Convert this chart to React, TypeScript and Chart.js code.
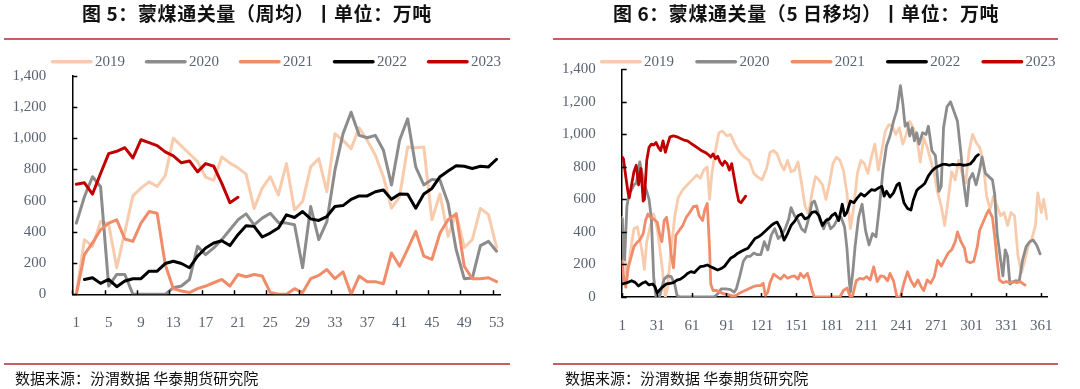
import React, { useEffect, useRef } from "react";
import { Chart, registerables } from "chart.js";

Chart.register(...registerables);

// ---------- shared ----------
const SERIES_NAMES = ["2019", "2020", "2021", "2022", "2023"];
const SERIES_COLORS = ["#F8CBAD", "#8C8C8C", "#F08C6A", "#000000", "#C00000"];
const Y_TICKS = [0, 200, 400, 600, 800, 1000, 1200, 1400];
const TEXT_COLOR = "#5b6371";

// ---------- Figure 5: weekly average ----------
const WEEKS = [1, 2, 3, 4, 5, 6, 7, 8, 9, 10, 11, 12, 13, 14, 15, 16, 17, 18, 19, 20, 21, 22, 23, 24, 25, 26, 27, 28, 29, 30, 31, 32, 33, 34, 35, 36, 37, 38, 39, 40, 41, 42, 43, 44, 45, 46, 47, 48, 49, 50, 51, 52, 53];
const WEEK_TICKS = [1, 5, 9, 13, 17, 21, 25, 29, 33, 37, 41, 45, 49, 53];
const WEEKLY_2019 = [0, 350, 307, 466, 450, 170, 400, 630, 680, 720, 690, 760, 1000, 950, 900, 850, 750, 730, 880, 840, 810, 770, 550, 680, 753, 636, 837, 540, 594, 816, 869, 657, 1028, 986, 933, 1066, 986, 890, 753, 551, 625, 943, 939, 943, 477, 642, 371, 519, 300, 350, 550, 510, 300];
const WEEKLY_2020 = [456, 625, 753, 689, 53, 127, 127, 0, 0, 0, 0, 0, 42, 53, 95, 307, 254, 297, 350, 413, 477, 515, 445, 488, 519, 460, 456, 445, 170, 562, 350, 466, 795, 1028, 1166, 1018, 1003, 1018, 922, 700, 986, 1124, 816, 700, 736, 731, 583, 286, 100, 104, 312, 339, 276];
const WEEKLY_2021 = [0, 254, 329, 413, 456, 477, 354, 339, 456, 530, 519, 191, 36, 21, 11, 36, 53, 74, 95, 53, 127, 112, 127, 117, 11, 0, 0, 36, 11, 100, 121, 159, 100, 144, 0, 117, 81, 81, 68, 265, 180, 290, 403, 244, 223, 392, 477, 515, 180, 100, 100, 106, 81];
const WEEKLY_2022 = [null, 95, 106, 70, 95, 49, 85, 100, 100, 148, 148, 197, 212, 197, 170, 244, 297, 329, 343, 312, 382, 439, 435, 367, 392, 424, 509, 492, 530, 483, 473, 498, 562, 568, 608, 630, 630, 657, 668, 608, 642, 640, 551, 642, 678, 753, 789, 823, 820, 806, 820, 816, 865];
const WEEKLY_2023 = [705, 714, 642, 774, 901, 916, 939, 873, 990, 971, 952, 912, 886, 842, 854, 784, 837, 820, 710, 587, 621];

// ---------- Figure 6: 5-day moving average (day, value) ----------
const DAY_TICKS = [1, 31, 61, 91, 121, 151, 181, 211, 241, 271, 301, 331, 361];
const DAILY_2019: [number, number][] = [
  [1, 490], [3, 250], [5, 110], [8, 280], [11, 420], [14, 430], [18, 280], [20, 170], [22, 340], [25, 430],
  [28, 510], [31, 420], [35, 200], [38, 0], [40, 60], [43, 300], [46, 490], [49, 610], [53, 660], [57, 690],
  [61, 720], [65, 750], [68, 730], [71, 780], [74, 800], [76, 600], [78, 760], [81, 900], [84, 1010], [87, 1020],
  [91, 990], [94, 1000], [97, 950], [100, 910], [103, 880], [106, 860], [110, 840], [114, 760], [117, 740], [121, 720],
  [125, 790], [128, 890], [131, 900], [134, 880], [137, 820], [140, 780], [143, 840], [146, 770], [149, 780], [152, 830],
  [155, 700], [158, 560], [161, 510], [164, 640], [167, 740], [170, 720], [173, 690], [176, 600], [179, 700], [182, 820],
  [185, 860], [188, 840], [191, 780], [194, 640], [197, 420], [200, 560], [203, 760], [206, 840], [209, 820], [212, 760],
  [215, 860], [218, 940], [221, 780], [224, 900], [227, 1020], [230, 1060], [233, 1050], [236, 1000], [239, 1040], [242, 940],
  [245, 1000], [248, 1080], [251, 1040], [254, 980], [257, 830], [260, 980], [263, 920], [266, 840], [269, 760], [272, 640],
  [275, 560], [278, 440], [281, 600], [284, 770], [287, 720], [290, 840], [293, 760], [296, 700], [299, 900], [302, 1000],
  [305, 950], [308, 920], [311, 840], [314, 620], [317, 540], [320, 620], [323, 560], [326, 500], [329, 520], [332, 440],
  [335, 520], [338, 500], [341, 250], [344, 150], [347, 230], [350, 320], [353, 360], [356, 440], [358, 640], [361, 520],
  [363, 600], [366, 480],
];
const DAILY_2020: [number, number][] = [
  [1, 480], [2, 300], [3, 230], [5, 560], [7, 640], [9, 660], [11, 690], [13, 700], [14, 740], [16, 830],
  [18, 760], [20, 690], [22, 650], [24, 600], [26, 480], [27, 300], [28, 120], [30, 0], [33, 0], [35, 60],
  [37, 110], [40, 130], [43, 125], [46, 80], [48, 10], [50, 0], [80, 0], [83, 20], [86, 50], [90, 50],
  [94, 45], [97, 30], [99, 50], [102, 130], [105, 220], [108, 250], [111, 250], [114, 270], [117, 260], [120, 260],
  [123, 340], [126, 290], [129, 380], [132, 420], [135, 360], [138, 380], [141, 420], [144, 480], [146, 550], [149, 500],
  [152, 470], [155, 420], [158, 400], [161, 480], [164, 580], [166, 590], [168, 550], [171, 470], [174, 420], [177, 480],
  [180, 420], [183, 440], [186, 480], [189, 490], [192, 430], [194, 300], [196, 100], [197, 30], [199, 150], [201, 310],
  [204, 490], [207, 570], [210, 410], [213, 320], [216, 390], [219, 370], [222, 560], [225, 780], [228, 930], [231, 990],
  [234, 1080], [237, 1150], [240, 1300], [242, 1190], [244, 1050], [246, 1070], [248, 990], [250, 1040], [252, 960], [254, 1010],
  [256, 940], [259, 1010], [262, 1000], [264, 1050], [267, 900], [270, 870], [273, 650], [275, 680], [277, 1040], [280, 1170],
  [283, 1200], [286, 1140], [289, 1080], [292, 880], [294, 720], [297, 560], [299, 720], [302, 760], [305, 690], [308, 780],
  [310, 860], [313, 760], [316, 740], [319, 720], [321, 630], [323, 390], [326, 230], [328, 130], [330, 290], [332, 250],
  [334, 80], [336, 90], [339, 100], [342, 95], [345, 230], [348, 310], [351, 340], [354, 350], [357, 320], [360, 265],
];
const DAILY_2021: [number, number][] = [
  [1, 220], [2, 130], [4, 60], [6, 180], [8, 230], [11, 310], [13, 330], [16, 350], [19, 390], [21, 470],
  [23, 510], [25, 490], [28, 480], [31, 460], [33, 390], [35, 340], [37, 470], [39, 490], [41, 400], [43, 260],
  [45, 180], [47, 380], [50, 410], [53, 440], [56, 490], [59, 520], [62, 555], [65, 560], [67, 500], [70, 470],
  [72, 540], [74, 575], [76, 300], [77, 80], [79, 40], [82, 40], [85, 30], [88, 20], [92, 15], [96, 5],
  [99, 10], [102, 25], [105, 35], [108, 45], [111, 55], [114, 65], [117, 70], [120, 70], [122, 85], [124, 10],
  [126, 30], [128, 90], [131, 140], [134, 125], [137, 110], [140, 135], [143, 115], [146, 125], [149, 130], [152, 110],
  [154, 145], [157, 120], [160, 145], [162, 100], [164, 40], [166, 0], [188, 0], [191, 40], [194, 55], [197, 0],
  [199, 10], [202, 100], [205, 115], [208, 110], [211, 125], [214, 105], [217, 185], [220, 95], [223, 130], [226, 125],
  [229, 100], [231, 145], [234, 100], [237, 0], [240, 0], [243, 85], [246, 155], [249, 100], [252, 65], [255, 105],
  [258, 60], [260, 40], [263, 105], [266, 85], [269, 125], [272, 225], [275, 190], [278, 230], [281, 270], [284, 290],
  [287, 340], [289, 400], [292, 340], [295, 300], [297, 220], [300, 210], [303, 220], [306, 310], [308, 410], [311, 460],
  [314, 510], [316, 535], [319, 490], [321, 370], [323, 230], [325, 105], [328, 88], [331, 95], [334, 88], [337, 95],
  [340, 88], [343, 95], [346, 78], [347, 74],
];
const DAILY_2022: [number, number][] = [
  [1, 80], [5, 88], [9, 100], [12, 90], [15, 68], [18, 84], [21, 94], [24, 74], [27, 80], [29, 64],
  [31, 25], [33, 43], [36, 64], [39, 80], [42, 84], [45, 88], [48, 104], [51, 110], [54, 125], [57, 145],
  [60, 156], [63, 150], [65, 166], [68, 186], [71, 190], [74, 197], [77, 186], [80, 176], [83, 166], [86, 175],
  [89, 190], [91, 210], [94, 238], [97, 250], [100, 268], [103, 280], [106, 290], [109, 300], [112, 330], [115, 360],
  [118, 370], [120, 380], [123, 400], [126, 420], [129, 440], [132, 455], [134, 460], [137, 420], [140, 350], [143, 390],
  [146, 440], [149, 465], [152, 500], [155, 510], [158, 480], [161, 490], [164, 520], [167, 525], [170, 500], [173, 440],
  [176, 470], [179, 480], [181, 500], [184, 515], [187, 470], [190, 570], [192, 500], [194, 520], [197, 590], [200, 580],
  [203, 610], [206, 635], [209, 620], [212, 640], [215, 660], [218, 655], [221, 670], [224, 680], [226, 620], [228, 650],
  [231, 615], [234, 640], [237, 690], [239, 700], [241, 640], [243, 580], [246, 545], [249, 535], [251, 595], [254, 655],
  [256, 670], [258, 680], [261, 700], [264, 745], [267, 775], [270, 795], [273, 805], [276, 815], [279, 815], [282, 810],
  [285, 815], [288, 812], [291, 815], [294, 810], [297, 812], [300, 818], [303, 842], [305, 865], [307, 875],
];
const DAILY_2023: [number, number][] = [
  [1, 860], [2, 850], [4, 740], [6, 640], [7, 610], [9, 690], [11, 770], [13, 810], [15, 690], [16, 740],
  [17, 790], [19, 590], [20, 600], [22, 840], [24, 920], [26, 940], [28, 935], [30, 950], [32, 920], [34, 900],
  [36, 960], [38, 890], [40, 940], [42, 985], [45, 990], [48, 985], [51, 975], [54, 965], [57, 960], [60, 945],
  [63, 930], [66, 915], [69, 900], [72, 890], [75, 875], [77, 860], [79, 880], [81, 850], [83, 865], [85, 830],
  [87, 810], [89, 835], [91, 820], [93, 780], [95, 820], [97, 740], [99, 660], [101, 590], [103, 580], [105, 600],
  [107, 620],
];

const TICK_FONT = { family: '"Liberation Serif", "Times New Roman", serif', size: 15 };

// Inside tick marks + legend drawn with the chart's own scales/datasets
const decorPlugin = {
  id: "decor",
  afterDraw(chart: any, _args: any, opts: any) {
    const { ctx, chartArea, scales } = chart;
    const xs = scales.x;
    const ys = scales.y;
    ctx.save();
    ctx.strokeStyle = "#000";
    ctx.lineWidth = 1.5;
    ctx.beginPath();
    for (const v of opts.yTicks) {
      const py = Math.round(ys.getPixelForValue(v)) + 0.5;
      ctx.moveTo(chartArea.left, py);
      ctx.lineTo(chartArea.left + 5, py);
    }
    for (const v of opts.xTicks) {
      const px = Math.round(xs.getPixelForValue(v - 0.5)) + 0.5;
      ctx.moveTo(px, chartArea.bottom);
      ctx.lineTo(px, chartArea.bottom - 4);
    }
    ctx.stroke();

    chart.data.datasets.forEach((ds: any, i: number) => {
      const lx = opts.legendX + i * opts.legendPitch;
      const ly = opts.legendY;
      ctx.strokeStyle = ds.borderColor;
      ctx.lineWidth = 3.5;
      ctx.lineCap = "round";
      ctx.beginPath();
      ctx.moveTo(lx + 1.5, ly);
      ctx.lineTo(lx + 40, ly);
      ctx.stroke();
      ctx.fillStyle = TEXT_COLOR;
      ctx.font = `15px ${TICK_FONT.family}`;
      ctx.textBaseline = "middle";
      ctx.textAlign = "left";
      ctx.fillText(ds.label, lx + 44, ly + 0.5);
    });
    ctx.restore();
  },
};

type PanelSpec = {
  datasets: any[];
  xMin: number;
  xMax: number;
  xTicks: number[];
  area: { left: number; right: number; top: number; bottom: number };
  legendX: number;
  legendPitch: number;
};

function ChartCanvas({ spec }: { spec: PanelSpec }) {
  const ref = useRef<HTMLCanvasElement | null>(null);
  useEffect(() => {
    if (!ref.current) return;
    const W = 540;
    const H = 389;
    const a = spec.area;
    const chart = new Chart(ref.current, {
      type: "line",
      data: { datasets: spec.datasets },
      plugins: [decorPlugin],
      options: {
        responsive: false,
        animation: false,
        devicePixelRatio: 1,
        locale: "en-US",
        layout: { padding: { left: 0, top: a.top, right: W - a.right, bottom: 0 } },
        elements: { point: { radius: 0, hoverRadius: 0 }, line: { tension: 0 } },
        plugins: {
          legend: { display: false },
          tooltip: { enabled: false },
          decor: {
            yTicks: Y_TICKS,
            xTicks: spec.xTicks,
            legendX: spec.legendX,
            legendPitch: spec.legendPitch,
            legendY: 61.7,
          },
        } as any,
        scales: {
          x: {
            type: "linear",
            min: spec.xMin,
            max: spec.xMax,
            afterBuildTicks: (s: any) => {
              s.ticks = spec.xTicks.map((v) => ({ value: v }));
            },
            afterFit: (s: any) => {
              s.height = H - a.bottom;
            },
            ticks: {
              autoSkip: false,
              maxRotation: 0,
              padding: 12,
              color: TEXT_COLOR,
              font: TICK_FONT,
              callback: (v: any) => String(v),
            },
            grid: { display: false },
            border: { display: true, color: "#000", width: 1.5 },
          },
          y: {
            min: 0,
            max: 1400,
            afterBuildTicks: (s: any) => {
              s.ticks = Y_TICKS.map((v) => ({ value: v }));
            },
            afterFit: (s: any) => {
              s.width = a.left;
            },
            ticks: {
              padding: 18,
              color: TEXT_COLOR,
              font: TICK_FONT,
              callback: (v: any) => Number(v).toLocaleString("en-US"),
            },
            grid: { display: false },
            border: { display: true, color: "#000", width: 1.5 },
          },
        },
      } as any,
    });
    let alive = true;
    if ((document as any).fonts) {
      Promise.all([
        (document as any).fonts.load('15px "Liberation Serif"'),
      ])
        .catch(() => null)
        .then(() => {
          if (alive) chart.update();
        });
    }
    return () => {
      alive = false;
      chart.destroy();
    };
  }, [spec]);
  return (
    <canvas
      ref={ref}
      width={540}
      height={389}
      style={{ position: "absolute", left: 0, top: 0, width: 540, height: 389 }}
    />
  );
}

function makeDataset(i: number, data: any[], width: number) {
  return {
    label: SERIES_NAMES[i],
    data,
    borderColor: SERIES_COLORS[i],
    backgroundColor: SERIES_COLORS[i],
    borderWidth: width,
    borderJoinStyle: "round",
    borderCapStyle: "round",
    pointRadius: 0,
    fill: false,
    spanGaps: false,
    order: SERIES_NAMES.length - 1 - i,
  };
}

const weeklyPoints = (vals: (number | null)[]) =>
  vals.map((v, i) => ({ x: WEEKS[i], y: v }));
const dailyPoints = (pairs: [number, number][]) => pairs.map(([d, v]) => ({ x: d, y: v }));

const LEFT_SPEC: PanelSpec = {
  datasets: [
    makeDataset(0, weeklyPoints(WEEKLY_2019), 3),
    makeDataset(1, weeklyPoints(WEEKLY_2020), 3),
    makeDataset(2, weeklyPoints(WEEKLY_2021), 3),
    makeDataset(3, weeklyPoints(WEEKLY_2022), 3),
    makeDataset(4, weeklyPoints(WEEKLY_2023), 3),
  ],
  xMin: 0.5,
  xMax: 53.5,
  xTicks: WEEK_TICKS,
  area: { left: 72.3, right: 500.6, top: 75.7, bottom: 294.3 },
  legendX: 51,
  legendPitch: 94,
};

const RIGHT_SPEC: PanelSpec = {
  datasets: [
    makeDataset(0, dailyPoints(DAILY_2019), 2.8),
    makeDataset(1, dailyPoints(DAILY_2020), 2.8),
    makeDataset(2, dailyPoints(DAILY_2021), 2.8),
    makeDataset(3, dailyPoints(DAILY_2022), 2.8),
    makeDataset(4, dailyPoints(DAILY_2023), 2.8),
  ],
  xMin: 0.5,
  xMax: 366.5,
  xTicks: DAY_TICKS,
  area: { left: 81.7, right: 507.7, top: 69.3, bottom: 297 },
  legendX: 60,
  legendPitch: 95.4,
};

const CJK = '"Noto Sans CJK SC", "Noto Sans", sans-serif';

function Panel({
  left,
  title,
  titleLeft,
  titleWidth,
  ruleLeft,
  ruleWidth,
  sourceLeft,
  spec,
}: {
  left: number;
  title: string;
  titleLeft: number;
  titleWidth: number;
  ruleLeft: number;
  ruleWidth: number;
  sourceLeft: number;
  spec: PanelSpec;
}) {
  return (
    <div style={{ position: "absolute", left, top: 0, width: 540, height: 389 }}>
      <ChartCanvas spec={spec} />
      <div
        style={{
          position: "absolute",
          left: titleLeft,
          top: 1.5,
          width: titleWidth,
          textAlign: "center",
          fontFamily: CJK,
          fontWeight: 700,
          fontSize: 19,
          letterSpacing: "0.6px",
          lineHeight: "21px",
          color: "#111",
          whiteSpace: "nowrap",
        }}
      >
        {title}
      </div>
      <div
        style={{
          position: "absolute",
          left: ruleLeft,
          top: 37.5,
          width: ruleWidth,
          height: 2,
          background: "#c65f5d",
        }}
      />
      <div
        style={{
          position: "absolute",
          left: ruleLeft,
          top: 362.5,
          width: ruleWidth,
          height: 2,
          background: "#c65f5d",
        }}
      />
      <div
        style={{
          position: "absolute",
          left: sourceLeft,
          top: 368,
          fontFamily: CJK,
          fontSize: 15,
          lineHeight: "20px",
          color: "#111",
          whiteSpace: "nowrap",
        }}
      >
        数据来源：汾渭数据 华泰期货研究院
      </div>
    </div>
  );
}

export default function App() {
  return (
    <div
      style={{
        position: "absolute",
        left: 0,
        top: 0,
        width: 1080,
        height: 389,
        background: "#fff",
        overflow: "hidden",
      }}
    >
      <Panel
        left={0}
        title="图 5：蒙煤通关量（周均）丨单位：万吨"
        titleLeft={0}
        titleWidth={514}
        ruleLeft={4}
        ruleWidth={506}
        sourceLeft={15}
        spec={LEFT_SPEC}
      />
      <Panel
        left={540}
        title="图 6：蒙煤通关量（5 日移均）丨单位：万吨"
        titleLeft={13}
        titleWidth={506}
        ruleLeft={13}
        ruleWidth={505}
        sourceLeft={25}
        spec={RIGHT_SPEC}
      />
    </div>
  );
}
